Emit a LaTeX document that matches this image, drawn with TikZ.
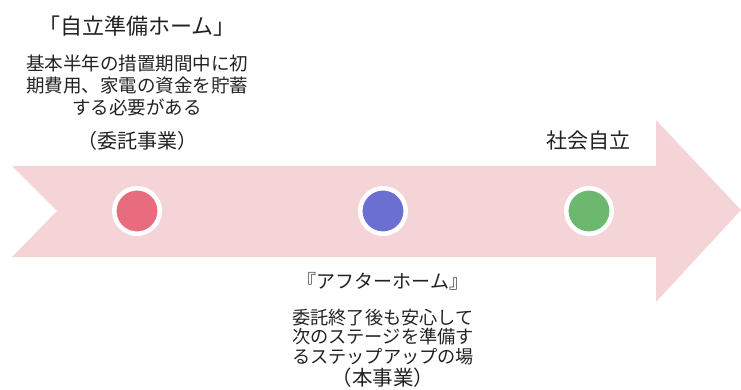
\documentclass[tikz,border=0pt]{standalone}
\usepackage{fontspec}
\setmainfont{Noto Sans CJK JP}
\definecolor{arrowpink}{HTML}{F4D4D7}
\definecolor{dotred}{HTML}{E86C7E}
\definecolor{dotblue}{HTML}{6B6FD0}
\definecolor{dotgreen}{HTML}{6CB86E}
\definecolor{txt}{HTML}{222222}
\tikzset{
  dot/.style={circle, draw=white, line width=4.5pt, minimum size=45.5pt, inner sep=0pt, outer sep=0pt},
  lbl/.style={text=txt, align=center, inner sep=0pt},
}
\begin{document}
\begin{tikzpicture}[x=1pt,y=-1pt]
\useasboundingbox (0,0) rectangle (741,390);
\fill[arrowpink] (12,166) -- (656,166) -- (656,120) -- (741,210) -- (656,302) -- (656,257) -- (12,257) -- (57,211) -- cycle;
\node[dot, fill=dotred] (d1) at (137,211) {};
\node[dot, fill=dotblue] (d2) at (383,211) {};
\node[dot, fill=dotgreen] (d3) at (589,211) {};
\node[lbl, font=\fontsize{22pt}{24pt}\selectfont] (t1) at (137,26) {「自立準備ホーム」};
\node[lbl, font=\fontsize{18.5pt}{22pt}\selectfont] (b1) at (137,85) {基本半年の措置期間中に初\\期費用、家電の資金を貯蓄\\する必要がある};
\node[lbl, font=\fontsize{20pt}{22pt}\selectfont] (c1) at (137,141) {（委託事業）};
\node[lbl, font=\fontsize{21pt}{24pt}\selectfont] (t3) at (588,141) {社会自立};
\node[lbl, font=\fontsize{19pt}{22pt}\selectfont] (t2) at (383,281) {『アフターホーム』};
\node[lbl, font=\fontsize{18.2pt}{19.7pt}\selectfont] (b2) at (383,337) {委託終了後も安心して\\次のステージを準備す\\るステップアップの場};
\node[lbl, font=\fontsize{20.5pt}{22pt}\selectfont] (c2) at (383,378) {（本事業）};
\end{tikzpicture}
\end{document}
